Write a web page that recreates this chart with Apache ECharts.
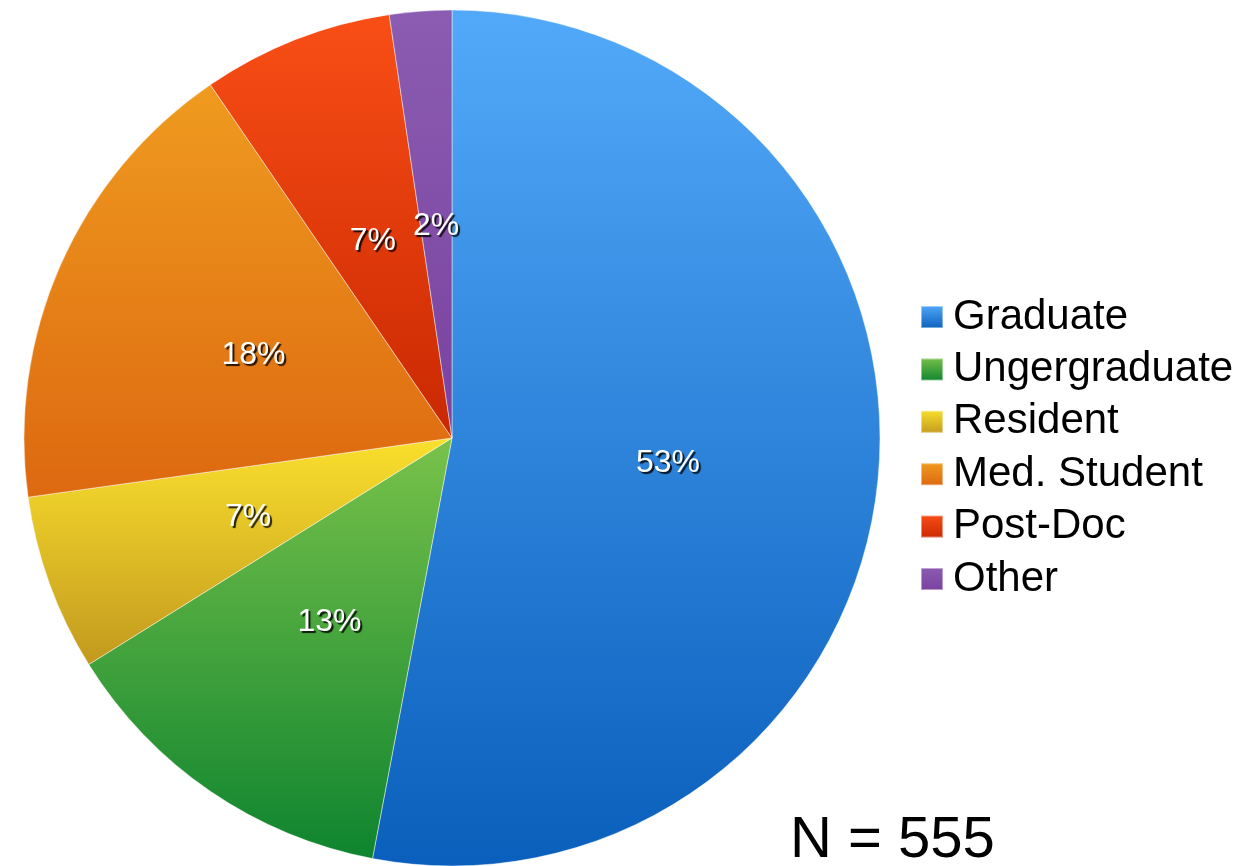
<!DOCTYPE html>
<html>
<head>
<meta charset="utf-8">
<script src="https://cdn.jsdelivr.net/npm/echarts@6/dist/echarts.min.js"></script>
<style>
  html, body { margin: 0; padding: 0; background: #fff; }
  #chart { width: 1256px; height: 866px; }
</style>
</head>
<body>
<div id="chart"></div>
<script>
// respondents by position (N = 555)
const categories = ['Graduate', 'Ungergraduate', 'Resident', 'Med. Student', 'Post-Doc', 'Other'];
const counts = [294, 73, 37, 98, 40, 13];
const totalLabel = 'N = 555';

// slice colours, light at top -> dark at bottom
const topColors = ['#53a9f9', '#79c24a', '#fae02d', '#ef9b1f', '#f94e16', '#8b5cb1'];
const bottomColors = ['#0a5fbc', '#0e842f', '#c2991e', '#dd6810', '#c92802', '#79429f'];

const font = '"Liberation Sans", Arial, Helvetica, sans-serif';

const chart = echarts.init(document.getElementById('chart'), null, { renderer: 'canvas' });

const pieData = categories.map((name, i) => ({
  name: name,
  value: counts[i],
  itemStyle: {
    color: new echarts.graphic.LinearGradient(0, 0, 0, 1, [
      { offset: 0, color: topColors[i] },
      { offset: 1, color: bottomColors[i] }
    ])
  }
}));

chart.setOption({
  animation: false,
  backgroundColor: '#ffffff',
  legend: {
    orient: 'vertical',
    left: 915,
    top: 291,
    icon: 'rect',
    itemWidth: 22,
    itemHeight: 22,
    itemGap: 10.4,
    data: categories,
    textStyle: {
      color: '#000',
      fontFamily: font,
      fontSize: 42,
      lineHeight: 42,
      padding: [0, 0, 0, 5]
    }
  },
  graphic: [{
    type: 'text',
    left: 790,
    top: 812,
    style: {
      text: totalLabel,
      fill: '#000',
      font: '58px ' + font
    }
  }],
  series: [{
    type: 'pie',
    center: [452, 438],
    radius: 428,
    startAngle: 90,
    clockwise: true,
    percentPrecision: 0,
    data: pieData,
    itemStyle: {
      borderColor: 'rgba(255,255,255,0.45)',
      borderWidth: 1
    },
    label: {
      show: true,
      position: 'inside',
      formatter: '{d}%',
      offset: [0, 5],
      color: '#fff',
      fontFamily: font,
      fontSize: 32,
      textBorderWidth: 0,
      textShadowColor: 'rgba(0,0,0,0.85)',
      textShadowBlur: 1,
      textShadowOffsetX: 2,
      textShadowOffsetY: 2
    },
    labelLine: { show: false },
    emphasis: { disabled: true }
  }]
});
</script>
</body>
</html>
